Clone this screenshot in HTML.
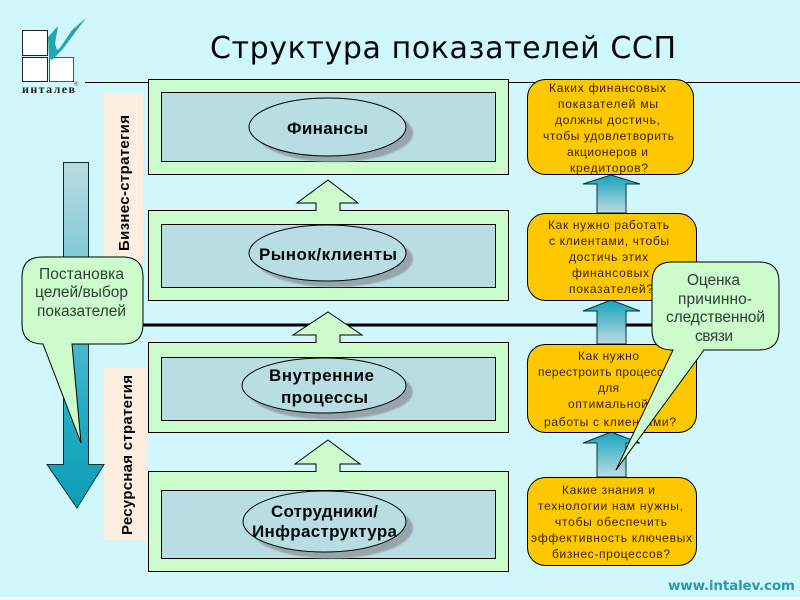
<!DOCTYPE html>
<html lang="ru"><head><meta charset="utf-8"><title>Структура показателей ССП</title>
<style>html,body{margin:0;padding:0;background:#d0f7fc}svg{display:block}
.o{font:12px "Liberation Sans",sans-serif;fill:#3d2200}
.c{font:15.5px "Liberation Sans",sans-serif;fill:#2f3f35}
.b{font:bold 17px "Liberation Sans",sans-serif;fill:#05080a}
</style></head><body>
<svg xmlns="http://www.w3.org/2000/svg" width="800" height="600" viewBox="0 0 800 600">
<defs>
<linearGradient id="t" x1="0" y1="0" x2="0" y2="1"><stop offset="0" stop-color="#16a3bb"/><stop offset="1" stop-color="#bcdbe1"/></linearGradient>
<linearGradient id="d" x1="0" y1="0" x2="0" y2="1"><stop offset="0" stop-color="#bcdbe1"/><stop offset=".7" stop-color="#24aec4"/><stop offset="1" stop-color="#0f9db6"/></linearGradient>
<filter id="s" x="-10%" y="-10%" width="120%" height="120%"><feGaussianBlur stdDeviation="0.8"/></filter>
</defs>
<rect width="800" height="600" fill="#d0f7fc"/>
<rect y="597" width="800" height="3" fill="#f4fbfb"/>

<line x1="85" y1="82.500" x2="800" y2="82.500" stroke="#000" stroke-width="1"/>

<rect x="104" y="93" width="39" height="170" fill="#fdeee0"/>
<rect x="104" y="368" width="43" height="172" fill="#fdeee0"/>
<text class="b" style="font-size:15px" transform="translate(129,251) rotate(-90)" textLength="136">Бизнес-стратегия</text>
<text class="b" style="font-size:15px" transform="translate(132,535) rotate(-90)" textLength="160">Ресурсная стратегия</text>

<path d="M63.500 162.500H88.500V464.500H104L77 508 47 464.500H63.500Z" fill="url(#d)" stroke="#06303a"/>

<line x1="143" y1="325" x2="660" y2="325" stroke="#000" stroke-width="3"/>

<g fill="#ccfbcc" stroke="#000">
<path d="M328 180 358 203H340V212H316V203H297Z"/>
<path d="M328 312 362 335H340V344H316V335H293Z"/>
<path d="M328 440 360 464H340V473H316V464H295Z"/>
<rect x="148.500" y="79.500" width="360" height="95"/>
<rect x="148.500" y="210.500" width="360" height="90"/>
<rect x="148.500" y="342.500" width="360" height="90"/>
<rect x="148.500" y="471.500" width="360" height="100"/>
</g>
<path d="M316.500 209.500H339.500V212H316.500ZM316.500 341.500H339.500V344H316.500ZM316.500 470.500H339.500V473H316.500Z" fill="#ccfbcc"/>
<g fill="#b8dde2" stroke="#000">
<rect x="161.500" y="92.500" width="334" height="69"/>
<rect x="161.500" y="224.500" width="334" height="63"/>
<rect x="161.500" y="357.500" width="334" height="63"/>
<rect x="161.500" y="490.500" width="334" height="68"/>
</g>
<g fill="#94a6ac" filter="url(#s)">
<ellipse cx="334.500" cy="133" rx="78.500" ry="29"/>
<ellipse cx="334.500" cy="259" rx="78.500" ry="28"/>
<ellipse cx="331" cy="392" rx="82" ry="27.500"/>
<ellipse cx="331.500" cy="528" rx="81.500" ry="30.500"/>
</g>
<g fill="#b8dde2" stroke="#000">
<ellipse cx="327.500" cy="127" rx="78.500" ry="29"/>
<ellipse cx="327.500" cy="253" rx="78.500" ry="28"/>
<ellipse cx="324" cy="385.500" rx="82" ry="27.500"/>
<ellipse cx="324.500" cy="521.500" rx="81.500" ry="30.500"/>
</g>
<text class="b" x="287" y="134" textLength="81">Финансы</text>
<text class="b" x="259" y="260" textLength="138">Рынок/клиенты</text>
<text class="b" x="269" y="381" textLength="105">Внутренние</text>
<text class="b" x="281" y="403" textLength="87">процессы</text>
<text class="b" x="271" y="517" textLength="107">Сотрудники/</text>
<text class="b" x="252" y="537" textLength="145">Инфраструктура</text>

<g fill="url(#t)" stroke="#06303a">
<path d="M611 175 640 184H626V213H597V184H583Z"/>
<path d="M611 300 640 311H626V344H597V311H583Z"/>
<path d="M611 432 640 443H626V477H597V443H583Z"/>
</g>
<g fill="#fdc800" stroke="#000">
<rect x="527.500" y="79.500" width="166" height="95" rx="18"/>
<rect x="527.500" y="213.500" width="169" height="87" rx="18"/>
<rect x="527.500" y="344.500" width="169" height="88" rx="18"/>
<rect x="527.500" y="477.500" width="169" height="88" rx="18"/>
</g>
<text class="o" x="549" y="92" textLength="117">Каких финансовых</text>
<text class="o" x="558" y="108" textLength="100">показателей мы</text>
<text class="o" x="555" y="124" textLength="105">должны достичь,</text>
<text class="o" x="543" y="140" textLength="131">чтобы удовлетворить</text>
<text class="o" x="567" y="156" textLength="81">акционеров и</text>
<text class="o" x="570" y="172" textLength="78">кредиторов?</text>
<text class="o" x="548" y="229" textLength="121">Как нужно работать</text>
<text class="o" x="549" y="245" textLength="120">с клиентами, чтобы</text>
<text class="o" x="569" y="261" textLength="79">достичь этих</text>
<text class="o" x="572" y="277" textLength="77">финансовых</text>
<text class="o" x="569" y="293" textLength="84">показателей?</text>
<text class="o" x="578" y="360" textLength="61">Как нужно</text>
<text class="o" x="538" y="376" textLength="134">перестроить процессы</text>
<text class="o" x="598" y="392" textLength="21">для</text>
<text class="o" x="568" y="408" textLength="80">оптимальной</text>
<text class="o" x="544" y="426" textLength="132">работы с клиентами?</text>
<text class="o" x="562" y="494" textLength="93">Какие знания и</text>
<text class="o" x="538" y="510" textLength="145">технологии нам нужны,</text>
<text class="o" x="555" y="526" textLength="112">чтобы обеспечить</text>
<text class="o" x="531" y="542" textLength="161">эффективность ключевых</text>
<text class="o" x="552" y="558" textLength="118">бизнес-процессов?</text>

<path d="M42 257H123Q143 257 143 277V324Q143 344 123 344H72L81 443 43 344Q22 344 22 324V277Q22 257 42 257Z" fill="#ccfbcc" stroke="#000"/>
<text class="c" x="39" y="279" textLength="85">Постановка</text>
<text class="c" x="35" y="297" textLength="93">целей/выбор</text>
<text class="c" x="37" y="316" textLength="89">показателей</text>

<path d="M672 262H759Q779 262 779 282V330Q779 350 759 350H704L616 470 673 350H672Q652 350 652 330V282Q652 262 672 262Z" fill="#ccfbcc" stroke="#000"/>
<text class="c" x="687" y="285" textLength="53">Оценка</text>
<text class="c" x="678" y="304" textLength="74">причинно-</text>
<text class="c" x="666" y="322" textLength="99">следственной</text>
<text class="c" x="695" y="341" textLength="38">связи</text>

<text x="210" y="58" textLength="466" style="font:30px 'DejaVu Sans',sans-serif;fill:#05080a">Структура показателей ССП</text>

<g fill="#fff" stroke="#222" stroke-width="1">
<rect x="22.500" y="30.500" width="25" height="25"/>
<rect x="22.500" y="57.500" width="25" height="24"/>
<rect x="49.500" y="57.500" width="24" height="24" stroke="#555"/>
</g>
<path d="M48 37 58 26 55 44 57 50 60 48 72 30 86 18 74 34 62 50 52 60 49 58Z" fill="#23a6ae"/>
<text x="22" y="93" textLength="53" style="font:bold 12px 'Liberation Serif',serif;fill:#222">инталев</text>
<text x="74" y="86" style="font:6px 'Liberation Sans',sans-serif;fill:#555">®</text>
<text x="668" y="590" textLength="127" style="font:bold 13.500px 'DejaVu Sans',sans-serif;fill:#2b9aa8">www.intalev.com</text>
</svg>
</body></html>
